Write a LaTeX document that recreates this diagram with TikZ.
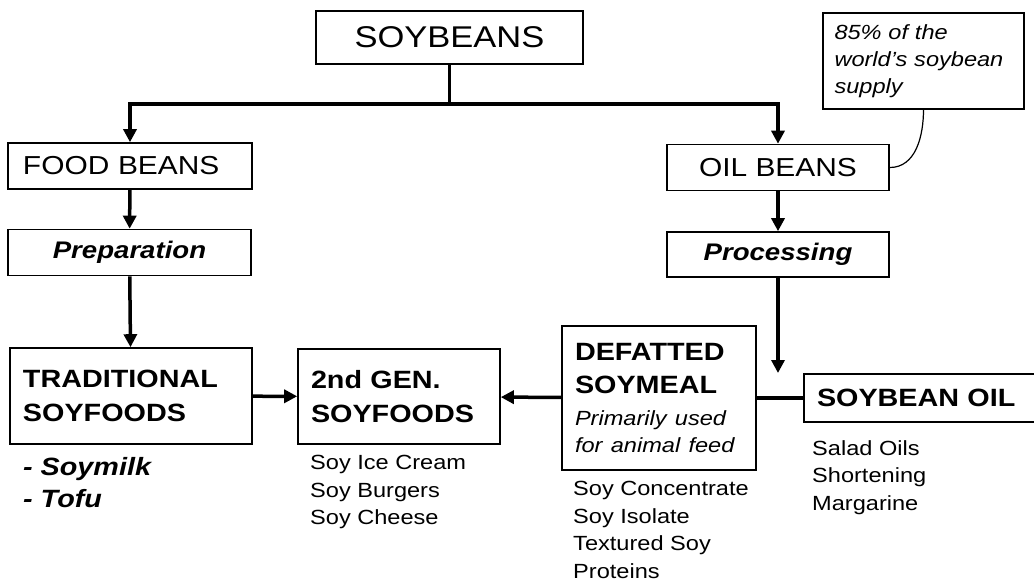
\documentclass[tikz,border=0pt]{standalone}
\usepackage{xcolor}
\usepackage{fontspec}
\setmainfont{Liberation Sans}[FakeStretch=1.15]
\usepackage{tikz}
\usetikzlibrary{arrows.meta}
\tikzstyle{stage} = [rectangle, minimum height=46pt, inner sep=0pt, text centered, draw=black, line width=1.6pt, font=\fontsize{26}{30}\selectfont]
\tikzstyle{method} = [stage, font=\fontsize{24}{28}\selectfont\bfseries\itshape]
\tikzstyle{product} = [rectangle, inner xsep=13pt, inner ysep=0pt, align=left, draw=black, line width=1.6pt, font=\fontsize{25}{34}\selectfont\bfseries]
\tikzstyle{remark} = [rectangle, minimum width=201pt, minimum height=96pt, inner xsep=11.5pt, text width=178pt, align=left, draw=black, line width=1.1pt, font=\fontsize{20.5}{27}\selectfont\itshape]
\tikzstyle{uses} = [anchor=west, inner sep=0pt, align=left, font=\fontsize{20.5}{27.5}\selectfont]
\tikzstyle{arrow} = [line width=3.5pt, ->, >={Triangle[length=13pt,width=13pt]}]
\tikzstyle{line} = [line width=3.5pt]

\begin{document}
\begin{tikzpicture}[x=1pt, y=-1pt]
\useasboundingbox (0,0) rectangle (1034,581);

% Nodes
\node (soybeans) [stage, minimum width=267pt, minimum height=53pt, font=\fontsize{30}{34}\selectfont] at (449.5,37.5) {SOYBEANS};
\node (food) [stage, inner xsep=15pt, text width=214pt, align=left] at (130,166) {FOOD BEANS};
\node (prep) [method, minimum width=243pt] at (129.5,252.5) {Preparation};
\node (trad) [product, text width=216pt, minimum height=96pt] at (131,396) {TRADITIONAL\\SOYFOODS};
\node (gen) [product, text width=176pt, minimum height=95pt] at (399,396.5) {2nd GEN.\\SOYFOODS};
\node (oil) [stage, minimum width=222pt] at (778,167.5) {OIL BEANS};
\node (proc) [method, minimum width=222pt, minimum height=45pt] at (778,254.5) {Processing};
\node (meal) [product, text width=168pt, minimum height=144pt, font=\fontsize{25}{27}\selectfont\bfseries] at (659,398)
  {DEFATTED\\[6pt]SOYMEAL\\[5pt]{\mdseries\itshape\fontsize{20.5}{27}\selectfont Primarily used}\\{\mdseries\itshape\fontsize{20.5}{27}\selectfont for animal feed}};
\node (soyoil) [product, text width=214pt, minimum height=48pt] at (924,398) {SOYBEAN OIL};
\node (share) [remark] at (923.5,61) {85\% of the\\world’s soybean\\supply};
\coordinate (split) at (449.5,104);
\coordinate (oilin) at (778,373);

% Product lists
\node (tradlist) [uses, font=\fontsize{25}{32}\selectfont\bfseries\itshape] at (23,483) {- Soymilk\\- Tofu};
\node (genlist) [uses] at (310,492) {Soy Ice Cream\\Soy Burgers\\Soy Cheese};
\node (meallist) [uses] at (573,530) {Soy Concentrate\\Soy Isolate\\Textured Soy\\Proteins};
\node (oillist) [uses] at (812,477.5) {Salad Oils\\Shortening\\Margarine};

% Arrows
\draw [line] (soybeans.south) -- (split);
\draw [arrow] (split) -| (food.north);
\draw [arrow] (split) -| (oil.north);
\draw [arrow] (food) -- (prep);
\draw [arrow] (prep) -- (trad);
\draw [arrow] (trad) -- (gen);
\draw [arrow] (meal) -- (gen);
\draw [arrow] (oil) -- (proc);
\draw [arrow] (proc.south) -- (oilin);
\draw [line] (meal) -- (soyoil);
\draw [line width=1.2pt] (share.south) to[out=-90, in=0] (oil.east);

\end{tikzpicture}
\end{document}
